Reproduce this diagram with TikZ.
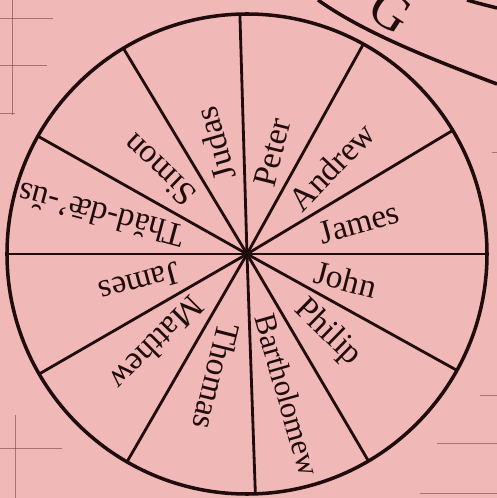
\documentclass[tikz,border=0pt]{standalone}
\usepackage{fontspec}
\setmainfont{Liberation Serif}
\usepackage{xcolor}

\definecolor{paper}{RGB}{240,184,182}
\definecolor{ink}{RGB}{32,12,12}
\definecolor{ruled}{RGB}{110,60,60}

\begin{document}
\begin{tikzpicture}[
  wheel/.style={draw=ink,line width=2pt},
  spoke/.style={draw=ink,line width=1.6pt},
  apostle/.style={text=ink,font=\fontsize{19}{22}\selectfont,anchor=west,inner sep=0pt},
  faint/.style={draw=ruled,line width=0.5pt,opacity=0.55}
]
  % page and frame
  \fill[paper] (-4.94,-4.88) rectangle (5.00,5.08);
  \useasboundingbox (-4.94,-4.88) rectangle (5.00,5.08);
  \clip (-4.94,-4.88) rectangle (5.00,5.08);

  % ruled lines of the page behind
  \draw[faint] (-4.70,5.08) -- (-4.70,2.78);
  \draw[faint] (-4.94,4.72) -- (-3.88,4.72);
  \draw[faint] (-4.94,3.78) -- (-4.00,3.78);
  \draw[faint] (-4.94,2.82) -- (-4.64,2.82);
  \draw[faint] (-4.64,-3.22) -- (-4.64,-4.88);
  \draw[faint] (-4.94,-3.88) -- (-3.70,-3.88);
  \draw[faint] (4.90,2.04) -- (5.00,2.04);
  \draw[faint] (4.66,-2.82) -- (5.00,-2.82);
  \draw[faint] (3.80,-3.78) -- (5.00,-3.78);
  \draw[faint] (3.46,-4.78) -- (5.00,-4.78);

  % banner in the corner
  \draw[wheel] (1.42,5.08) .. controls (2.30,4.45) and (3.60,3.93) .. (5.00,3.40);
  \draw[wheel] (4.40,5.08) .. controls (4.60,5.02) and (4.80,4.97) .. (5.00,4.92);
  \node[text=ink,font=\fontsize{30}{32}\selectfont,rotate=-33,inner sep=0pt] (banner) at (2.88,4.86) {G};

  % the wheel
  \coordinate (c) at (0,0);
  \draw[wheel] (c) circle (4.80);
  \draw[spoke] (c) -- (0:4.80);
  \draw[spoke] (c) -- (31:4.80);
  \draw[spoke] (c) -- (61:4.80);
  \draw[spoke] (c) -- (91.7:4.80);
  \draw[spoke] (c) -- (121:4.80);
  \draw[spoke] (c) -- (150.6:4.80);
  \draw[spoke] (c) -- (180:4.80);
  \draw[spoke] (c) -- (210:4.80);
  \draw[spoke] (c) -- (240:4.80);
  \draw[spoke] (c) -- (272:4.80);
  \draw[spoke] (c) -- (300.4:4.80);
  \draw[spoke] (c) -- (331:4.80);
  \fill[ink] (c) circle (0.1);

  % names
  \node[apostle,rotate=15.5] (james1) at (15.5:1.50) {James};
  \node[apostle,rotate=345.5] (john) at (345.5:1.40) {John};
  \node[apostle,rotate=315.7] (philip) at (315.7:1.45) {Philip};
  \node[apostle,rotate=286,font=\fontsize{17.5}{20}\selectfont] (bartholomew) at (286:1.25) {Bartholomew};
  \node[apostle,rotate=256] (thomas) at (256:1.45) {Thomas};
  \node[apostle,rotate=225] (matthew) at (225:1.35) {Matthew};
  \node[apostle,rotate=195] (james2) at (195:1.40) {James};
  \node[apostle,rotate=165] (thaddeus) at (165:1.30) {Thăd-dǣ'-ŭs};
  \node[apostle,rotate=136] (simon) at (136:1.55) {Simon};
  \node[apostle,rotate=106] (judas) at (106:1.55) {Judas};
  \node[apostle,rotate=76] (peter) at (76:1.40) {Peter};
  \node[apostle,rotate=46] (andrew) at (46:1.35) {Andrew};
\end{tikzpicture}
\end{document}
